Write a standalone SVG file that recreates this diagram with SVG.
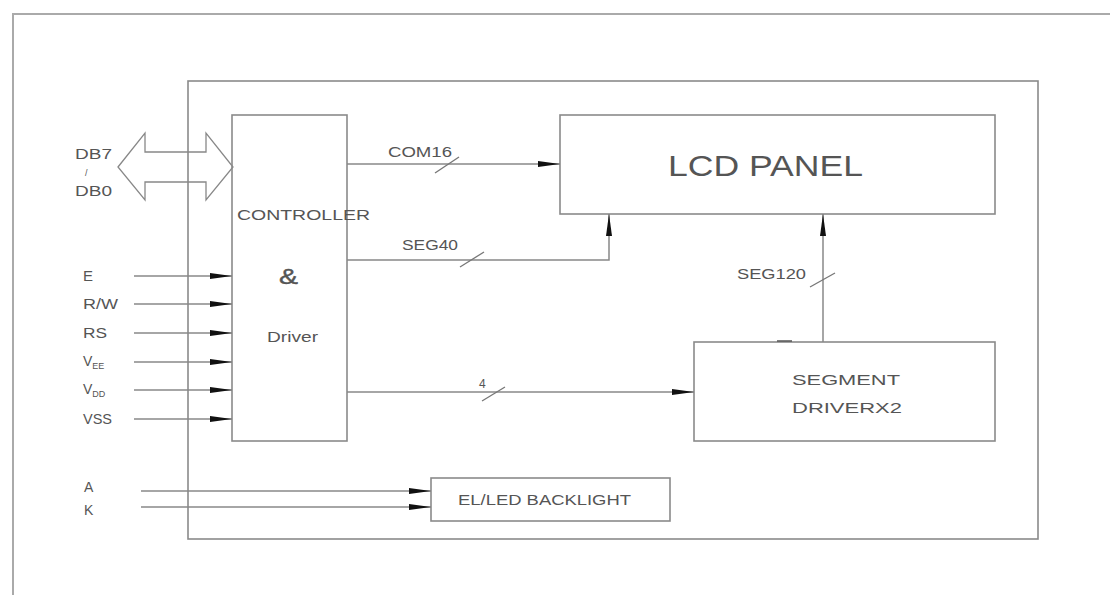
<svg xmlns="http://www.w3.org/2000/svg" width="1110" height="595" viewBox="0 0 1110 595">
<style>
  .frame{fill:none;stroke:#aaa;stroke-width:2}
  .box{fill:none;stroke:#8a8a8a;stroke-width:1.6}
  .wire{fill:none;stroke:#888;stroke-width:1.5}
  .slash{fill:none;stroke:#777;stroke-width:1.3}
  .t{font-family:"Liberation Sans",Arial,sans-serif;fill:#555;font-size:14px}
  .tb{font-family:"Liberation Sans",Arial,sans-serif;fill:#555;font-size:15px}
</style>
<defs>
  <marker id="arr" markerUnits="userSpaceOnUse" markerWidth="24" markerHeight="8" refX="22" refY="3.5" orient="auto">
    <path d="M0,0.5 L22,3.5 L0,6.5 z" fill="#111"/>
  </marker>
</defs>
<rect width="1110" height="595" fill="#fff"/>

<g id="outer-frame">
  <path class="frame" d="M1110,14 H13 V595"/>
</g>
<g id="module-box">
  <rect class="box" x="188" y="81" width="850" height="458"/>
</g>

<g id="db-bus">
  <polygon points="118,167 145,133 145,152 206,152 206,133 233,167 206,200 206,182 145,182 145,200" fill="none" stroke="#888" stroke-width="1.3"/>
  <text class="t" x="75" y="159" textLength="37" lengthAdjust="spacingAndGlyphs">DB7</text>
  <text class="t" x="85" y="176" style="font-size:9px">/</text>
  <text class="t" x="75" y="196" textLength="37" lengthAdjust="spacingAndGlyphs">DB0</text>
</g>

<g id="controller">
  <rect class="box" x="232" y="115" width="115" height="326"/>
  <text class="tb" x="237" y="220" textLength="133" lengthAdjust="spacingAndGlyphs">CONTROLLER</text>
  <text class="t" x="279" y="284" style="font-size:22px" stroke="#555" stroke-width="0.4" textLength="19" lengthAdjust="spacingAndGlyphs">&amp;</text>
  <text class="tb" x="267" y="342" textLength="51" lengthAdjust="spacingAndGlyphs">Driver</text>
</g>

<g id="lcd-panel">
  <rect class="box" x="560" y="115" width="435" height="99"/>
  <text class="t" x="668" y="176" style="font-size:30px" textLength="195" lengthAdjust="spacingAndGlyphs">LCD PANEL</text>
</g>

<g id="segment-driver">
  <rect class="box" x="694" y="342" width="301" height="99"/>
  <line x1="777" y1="341" x2="792" y2="341" stroke="#555" stroke-width="1.5"/>
  <text class="tb" x="792" y="385" textLength="108" lengthAdjust="spacingAndGlyphs">SEGMENT</text>
  <text class="tb" x="792" y="413" textLength="110" lengthAdjust="spacingAndGlyphs">DRIVERX2</text>
</g>

<g id="backlight">
  <rect class="box" x="431" y="478" width="239" height="43"/>
  <text class="t" x="458" y="505" style="font-size:14px" textLength="173" lengthAdjust="spacingAndGlyphs">EL/LED BACKLIGHT</text>
</g>

<g id="connectors">
  <path class="wire" d="M347,164 H560" marker-end="url(#arr)"/>
  <path class="wire" d="M347,260 H609 V214" marker-end="url(#arr)"/>
  <path class="wire" d="M823,342 V214" marker-end="url(#arr)"/>
  <path class="wire" d="M347,392 H694" marker-end="url(#arr)"/>
  <path class="wire" d="M134,276 H232" marker-end="url(#arr)"/>
  <path class="wire" d="M134,304 H232" marker-end="url(#arr)"/>
  <path class="wire" d="M134,333 H232" marker-end="url(#arr)"/>
  <path class="wire" d="M134,362 H232" marker-end="url(#arr)"/>
  <path class="wire" d="M134,390 H232" marker-end="url(#arr)"/>
  <path class="wire" d="M134,419 H232" marker-end="url(#arr)"/>
  <path class="wire" d="M141,491 H431" marker-end="url(#arr)"/>
  <path class="wire" d="M141,507 H431" marker-end="url(#arr)"/>
  <line class="slash" x1="435" y1="173" x2="459" y2="157"/>
  <line class="slash" x1="460" y1="267" x2="484" y2="252"/>
  <line class="slash" x1="810" y1="287" x2="835" y2="273"/>
  <line class="slash" x1="482" y1="401" x2="505" y2="387"/>
</g>

<g id="labels">
  <text class="t" x="388" y="157" textLength="64" lengthAdjust="spacingAndGlyphs">COM16</text>
  <text class="t" x="402" y="250" textLength="56" lengthAdjust="spacingAndGlyphs">SEG40</text>
  <text class="t" x="737" y="279" textLength="69" lengthAdjust="spacingAndGlyphs">SEG120</text>
  <text class="t" x="479" y="388" style="font-size:12px">4</text>
  <text class="t" x="83" y="281" textLength="10" lengthAdjust="spacingAndGlyphs">E</text>
  <text class="t" x="83" y="309" textLength="35" lengthAdjust="spacingAndGlyphs">R/W</text>
  <text class="t" x="83" y="338" textLength="24" lengthAdjust="spacingAndGlyphs">RS</text>
  <text class="t" x="83" y="366">V<tspan style="font-size:9px" dy="3">EE</tspan></text>
  <text class="t" x="83" y="394">V<tspan style="font-size:9px" dy="3">DD</tspan></text>
  <text class="t" x="83" y="424" textLength="29" lengthAdjust="spacingAndGlyphs">VSS</text>
  <text class="t" x="84" y="492">A</text>
  <text class="t" x="84" y="515">K</text>
</g>
</svg>
